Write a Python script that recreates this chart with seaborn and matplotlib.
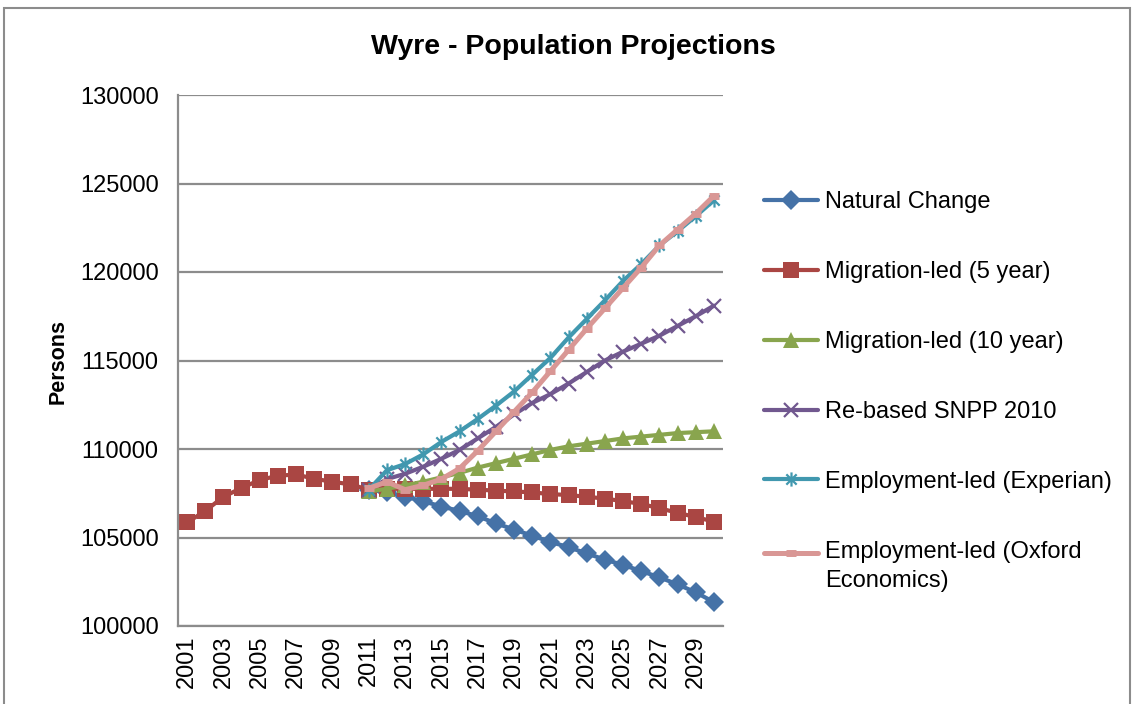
import matplotlib
matplotlib.use("Agg")
import matplotlib.pyplot as plt
import seaborn as sns
import numpy as np
from matplotlib.path import Path
from matplotlib.patches import Rectangle
from matplotlib.legend_handler import HandlerLine2D

# ---------------- data ----------------
years_hist = list(range(2001, 2031))
years_proj = list(range(2011, 2031))

natural_change = [107700, 107550, 107300, 107050, 106750, 106500, 106200, 105800, 105450, 105100,
                  104750, 104450, 104100, 103750, 103450, 103100, 102750, 102350, 101900, 101350]
migration_5yr = [105850, 106500, 107300, 107800, 108250, 108490, 108560, 108320, 108150, 108000,
                 107700, 107750, 107750, 107750, 107750, 107750, 107700, 107650, 107600, 107550,
                 107450, 107400, 107300, 107200, 107050, 106900, 106650, 106400, 106150, 105900]
migration_10yr = [107600, 107750, 107950, 108150, 108400, 108650, 108950, 109200, 109450, 109700,
                  109950, 110150, 110300, 110450, 110600, 110700, 110800, 110900, 110950, 111000]
snpp_2010 = [107700, 108300, 108600, 109000, 109450, 109950, 110600, 111250, 111950, 112600,
             113100, 113700, 114350, 115000, 115500, 115950, 116400, 116950, 117500, 118100]
emp_experian = [107700, 108800, 109150, 109700, 110400, 111000, 111700, 112450, 113250, 114200,
                115150, 116300, 117350, 118400, 119500, 120450, 121500, 122300, 123150, 124050]
emp_oxford = [107780, 108150, 107700, 107950, 108300, 108900, 109900, 111000, 112100, 113200,
              114400, 115600, 116800, 117950, 119100, 120250, 121500, 122400, 123300, 124300]

series_names = ["Natural Change", "Migration-led (5 year)", "Migration-led (10 year)",
                "Re-based SNPP 2010", "Employment-led (Experian)",
                "Employment-led (Oxford\nEconomics)"]
y_ticks = [100000, 105000, 110000, 115000, 120000, 125000, 130000]
x_ticks = list(range(2001, 2030, 2))

# ---------------- style ----------------
sns.set_theme(style="white")
plt.rcParams["font.family"] = ["Liberation Sans", "DejaVu Sans"]
plt.rcParams["text.color"] = "black"

fig = plt.figure(figsize=(11.34, 7.04), dpi=100)
fig.patch.set_facecolor("white")
ax = fig.add_axes([178 / 1134, 1 - 626 / 704, (723 - 178) / 1134, (626 - 95) / 704])

star = Path([(-0.8, -0.8), (0.8, 0.8), (-0.8, 0.8), (0.8, -0.8), (0, -1.1), (0, 1.1)],
            [Path.MOVETO, Path.LINETO, Path.MOVETO, Path.LINETO, Path.MOVETO, Path.LINETO])

specs = [
    (years_proj, natural_change, "#4572A7", dict(marker="D", markersize=12.5, markeredgewidth=0), 3.0),
    (years_hist, migration_5yr, "#AA4643", dict(marker="s", markersize=14, markeredgewidth=0), 3.0),
    (years_proj, migration_10yr, "#89A54E", dict(marker="^", markersize=13.5, markeredgewidth=0), 3.0),
    (years_proj, snpp_2010, "#71588F", dict(marker="x", markersize=11.5, markeredgewidth=1.6), 3.0),
    (years_proj, emp_experian, "#4198AF", dict(marker=star, markersize=12, markeredgewidth=1.6), 3.0),
    (years_proj, emp_oxford, "#D99795", dict(marker="_", markersize=9, markeredgewidth=5), 3.6),
]

for (xs, ys, col, mk, lw), name in zip(specs, series_names):
    sns.lineplot(x=xs, y=ys, ax=ax, color=col, linewidth=lw, label=name,
                 markeredgecolor=col, markerfacecolor=col, **mk)

ax.set_xlim(2000.5, 2030.5)
ax.set_ylim(100000, 130000)
ax.set_yticks(y_ticks)
ax.set_yticklabels([str(v) for v in y_ticks])
ax.set_xticks(x_ticks)
ax.set_xticklabels([str(v) for v in x_ticks], rotation=90)
ax.tick_params(axis="y", length=0, pad=14, labelsize=17, colors="black")
ax.tick_params(axis="x", length=0, pad=7, labelsize=17, colors="black")
ax.grid(axis="y", color="#8c8c8c", linewidth=1.6)
ax.set_axisbelow(True)
for s in ["top", "right"]:
    ax.spines[s].set_visible(False)
for s in ["left", "bottom"]:
    ax.spines[s].set_color("#8c8c8c")
    ax.spines[s].set_linewidth(1.6)
ax.set_xlabel("")
ax.set_ylabel("")


class RaisedHandler(HandlerLine2D):
    """Line handle aligned with the first line of a two-line label."""
    def __init__(self, shift, **kw):
        super().__init__(**kw)
        self.shift = shift

    def create_artists(self, legend, orig_handle, xdescent, ydescent, width, height,
                       fontsize, trans):
        arts = super().create_artists(legend, orig_handle, xdescent, ydescent, width,
                                      height, fontsize, trans)
        for a in arts:
            a.set_ydata(np.asarray(a.get_ydata()) + self.shift)
        return arts


h, l = ax.get_legend_handles_labels()
for hh in h:
    hh.set_markersize(hh.get_markersize() * 0.85)
leg = ax.legend(h, l, loc="upper left", bbox_to_anchor=(764 / 1134, 1 - 191 / 704),
                bbox_transform=fig.transFigure, frameon=False, fontsize=17,
                handlelength=2.3, handletextpad=0.3, labelspacing=2.03, borderpad=0,
                borderaxespad=0, handler_map={h[-1]: RaisedHandler(shift=10.0)})
for t in leg.get_texts():
    t.set_color("black")
leg.get_texts()[-1].set_linespacing(1.42)

fig.text(0.506, 1 - 47 / 704, "Wyre - Population Projections", ha="center", va="center",
         fontsize=20.5, fontweight="bold", color="black")
fig.text(58 / 1134, 1 - 362 / 704, "Persons", ha="center", va="center", rotation=90,
         fontsize=15.5, fontweight="bold", color="black")

fig.patches.append(Rectangle((4 / 1134, -0.05), (1130 - 4) / 1134, 1 - 8 / 704 + 0.05,
                             transform=fig.transFigure, fill=False, edgecolor="#8c8c8c",
                             linewidth=1.5, figure=fig))

fig.savefig("out.png", dpi=100, facecolor="white")
